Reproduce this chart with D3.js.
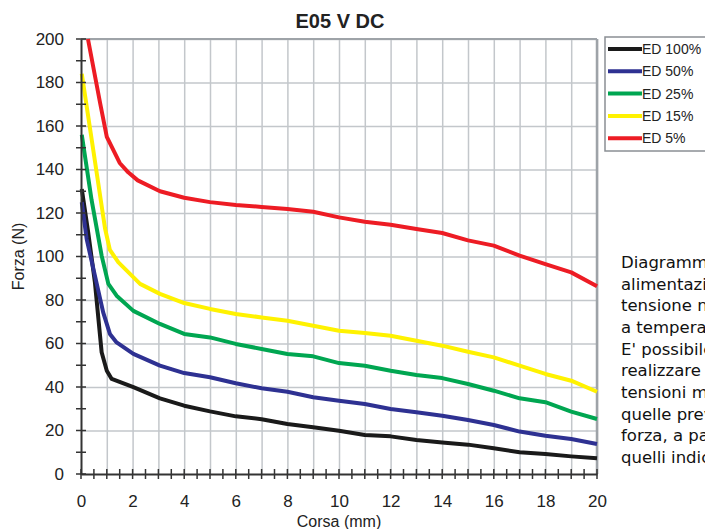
<!DOCTYPE html>
<html>
<head>
<meta charset="utf-8">
<script src="https://cdn.jsdelivr.net/npm/d3@7"></script>
<style>
  body { margin: 0; background: #fff; }
  svg { display: block; }
  .axis text { font-family: "Liberation Sans", Arial, sans-serif; font-size: 17px; fill: #222; }
</style>
</head>
<body>
<div id="chart"></div>
<script>
// data: [corsa mm, forza N]
var seriesNames = ["ED 100%", "ED 50%", "ED 25%", "ED 15%", "ED 5%"];
var seriesColors = ["#1a1a1a", "#2e3192", "#00a651", "#fff200", "#ed1c24"];

var ed100 = [[0.03,131],[0.28,111],[0.54,88],[0.8,56],[1.0,47.5],[1.19,43.7],[2.03,39.9],[3.06,34.8],[4,31.4],[5,28.8],[6,26.5],[7,25.2],[8,23],[9,21.5],[10,19.9],[11,17.9],[12,17.3],[13,15.6],[14,14.5],[15,13.5],[16,11.8],[17,10],[18,9.2],[19,8.1],[20,7.2]];
var ed50 = [[0.03,125],[0.22,108],[0.6,88],[0.86,74.3],[1.12,64.4],[1.38,60.5],[2.03,55.2],[3.06,49.8],[4,46.4],[5,44.5],[6,41.7],[7,39.4],[8,37.8],[9,35.3],[10,33.7],[11,32.2],[12,29.9],[13,28.4],[14,26.8],[15,24.8],[16,22.5],[17,19.5],[18,17.6],[19,16.1],[20,13.8]];
var ed25 = [[0.03,156],[0.41,126],[0.8,100.4],[1.06,87.4],[1.38,82],[2.03,75],[3.06,69],[4,64.4],[5,62.8],[6,59.8],[7,57.5],[8,55.2],[9,54.1],[10,51],[11,49.8],[12,47.5],[13,45.5],[14,44.1],[15,41.4],[16,38.3],[17,34.8],[18,33],[19,28.7],[20,25.3]];
var ed15 = [[0.03,184],[0.5,147],[0.93,113],[1.12,103],[1.45,97.3],[2.29,87.4],[3.06,82.8],[4,78.6],[5,75.9],[6,73.6],[7,72],[8,70.5],[9,68.2],[10,65.9],[11,64.8],[12,63.6],[13,61.3],[14,59],[15,56.2],[16,53.6],[17,49.8],[18,46],[19,42.9],[20,37.8]];
var ed5 = [[0.27,200],[0.75,170],[1.0,155],[1.5,143],[1.83,138.7],[2.2,135],[3.06,130],[4,127],[5,125],[6,123.7],[7,122.8],[8,121.8],[9,120.6],[10,118],[11,116],[12,114.6],[13,112.6],[14,110.8],[15,107.4],[16,105],[17,100.4],[18,96.5],[19,92.7],[20,86.3]];
var seriesData = [ed100, ed50, ed25, ed15, ed5];

var xTicks = [0,2,4,6,8,10,12,14,16,18,20];
var yTicks = [0,20,40,60,80,100,120,140,160,180,200];

// note on the right, cut by the page edge as in the picture
var noteLines = ["Diagramma forza-corsa", "alimentazione a", "tensione nominale", "a temperatura ambiente.",
  "E' possibile", "realizzare elettromagneti", "tensioni minori o maggiori", "quelle previste con valori",
  "forza, a parità di corsa,", "quelli indicati."];

var W = 705, H = 529;
var margin = {top: 39, left: 81, right: 108, bottom: 55};
var width = W - margin.left - margin.right,
    height = H - margin.top - margin.bottom;

var svg = d3.select("#chart").append("svg")
    .attr("width", W)
    .attr("height", H);

var x = d3.scaleLinear().domain([0, 20]).range([margin.left, margin.left + width]);
var y = d3.scaleLinear().domain([0, 200]).range([margin.top + height, margin.top]);

// grid
svg.append("g")
    .attr("transform", "translate(0," + (margin.top + height) + ")")
    .call(d3.axisBottom(x).tickValues(d3.range(1, 21)).tickSize(-height).tickFormat(""))
    .call(function(g){ g.select(".domain").remove(); })
    .selectAll("line").attr("stroke", "#c3c7cb").attr("stroke-width", 1.5);
svg.append("g")
    .attr("transform", "translate(" + margin.left + ",0)")
    .call(d3.axisLeft(y).tickValues(yTicks.slice(1)).tickSize(-width).tickFormat(""))
    .call(function(g){ g.select(".domain").remove(); })
    .selectAll("line").attr("stroke", "#c3c7cb").attr("stroke-width", 1.5);

// top and right frame
svg.append("line").attr("x1", x(0)).attr("x2", x(20)).attr("y1", y(200)).attr("y2", y(200))
    .attr("stroke", "#9ea3a8").attr("stroke-width", 2);
svg.append("line").attr("x1", x(20)).attr("x2", x(20)).attr("y1", y(200)).attr("y2", y(0))
    .attr("stroke", "#9ea3a8").attr("stroke-width", 2.5);

// curves
var line = d3.line()
    .x(function(d){ return x(d[0]); })
    .y(function(d){ return y(d[1]); });

svg.append("g").selectAll("path")
    .data(seriesData)
    .enter().append("path")
    .attr("d", line)
    .attr("fill", "none")
    .attr("stroke", function(d, i){ return seriesColors[i]; })
    .attr("stroke-width", 4)
    .attr("stroke-linejoin", "round");

// axes with crossing minor ticks
var minorX = svg.append("g").attr("transform", "translate(0," + y(0) + ")");
minorX.selectAll("line").data(d3.range(0, 20.01, 0.5)).enter().append("line")
    .attr("x1", function(d){ return x(d); }).attr("x2", function(d){ return x(d); })
    .attr("y1", -5).attr("y2", 5).attr("stroke", "#333").attr("stroke-width", 1.5);
var minorY = svg.append("g").attr("transform", "translate(" + x(0) + ",0)");
minorY.selectAll("line").data(d3.range(0, 200.1, 10)).enter().append("line")
    .attr("y1", function(d){ return y(d); }).attr("y2", function(d){ return y(d); })
    .attr("x1", -5).attr("x2", 5).attr("stroke", "#333").attr("stroke-width", 1.5);

svg.append("g").attr("class", "axis")
    .attr("transform", "translate(0," + y(0) + ")")
    .call(d3.axisBottom(x).tickValues(xTicks).tickSize(0).tickPadding(21))
    .select(".domain").attr("stroke", "#333").attr("stroke-width", 2);
svg.append("g").attr("class", "axis")
    .attr("transform", "translate(" + x(0) + ",0)")
    .call(d3.axisLeft(y).tickValues(yTicks).tickSize(0).tickPadding(17))
    .select(".domain").attr("stroke", "#333").attr("stroke-width", 2);

// titles
svg.append("text").attr("x", 340).attr("y", 28).attr("text-anchor", "middle")
    .style("font-family", "Liberation Sans, Arial, sans-serif").style("font-size", "20px")
    .style("font-weight", "bold").attr("fill", "#222").text("E05 V DC");
svg.append("text").attr("x", 339).attr("y", 527).attr("text-anchor", "middle")
    .style("font-family", "Liberation Sans, Arial, sans-serif").style("font-size", "16px")
    .attr("fill", "#222").text("Corsa (mm)");
svg.append("text").attr("transform", "translate(24," + y(100) + ") rotate(-90)")
    .attr("text-anchor", "middle")
    .style("font-family", "Liberation Sans, Arial, sans-serif").style("font-size", "16px")
    .attr("fill", "#222").text("Forza (N)");

// legend
var legend = svg.append("g").attr("transform", "translate(605,37)");
legend.append("rect").attr("x", 0).attr("y", 0).attr("width", 110).attr("height", 114)
    .attr("fill", "#fff").attr("stroke", "#8a8f94").attr("stroke-width", 1.5);
var items = legend.selectAll("g.item").data(seriesNames).enter().append("g")
    .attr("class", "item")
    .attr("transform", function(d, i){ return "translate(0," + (12 + i * 22.3) + ")"; });
items.append("line").attr("x1", 3).attr("x2", 37).attr("y1", 0).attr("y2", 0)
    .attr("stroke", function(d, i){ return seriesColors[i]; }).attr("stroke-width", 4);
items.append("text").attr("x", 37).attr("y", 5)
    .style("font-family", "Liberation Sans, Arial, sans-serif").style("font-size", "14px")
    .attr("fill", "#222").text(function(d){ return d; });

// side note
svg.append("g").selectAll("text").data(noteLines).enter().append("text")
    .attr("x", 621).attr("y", function(d, i){ return 268 + i * 21.65; })
    .style("font-family", "DejaVu Sans, Verdana, sans-serif").style("font-size", "16.5px")
    .attr("fill", "#111").text(function(d){ return d; });
</script>
</body>
</html>
